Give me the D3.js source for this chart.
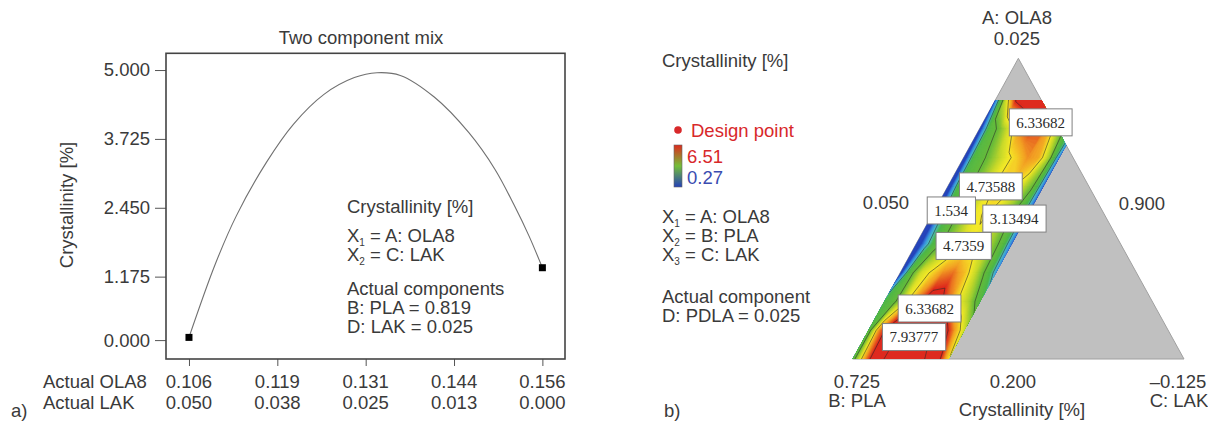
<!DOCTYPE html>
<html>
<head>
<meta charset="utf-8">
<script src="https://cdn.jsdelivr.net/npm/d3@7"></script>
<style>
  body { margin: 0; background: #fff; }
  svg text { font-family: "Liberation Sans", Arial, sans-serif; fill: #3a3a3a; }
  svg text.serif { font-family: "Liberation Serif", "Times New Roman", serif; fill: #2a2a2a; }
</style>
</head>
<body>
<svg id="chart" width="1208" height="423"></svg>
<script>
// ---------- panel a: two component mix ----------
const tickOLA8 = [0.106, 0.1185, 0.131, 0.1435, 0.156];
const tickLabelsOLA8 = ["0.106", "0.119", "0.131", "0.144", "0.156"];
const tickLabelsLAK = ["0.050", "0.038", "0.025", "0.013", "0.000"];
const yTicks = [0, 1.175, 2.45, 3.725, 5];

const curveOLA8  = [0.1060, 0.1097, 0.1127, 0.1170, 0.1208, 0.1251, 0.1294, 0.1326,
                    0.1359, 0.1407, 0.1456, 0.1493, 0.1520, 0.1541, 0.1560];
const curveCryst = [0.05, 1.40, 2.30, 3.30, 4.00, 4.55, 4.86, 4.95,
                    4.90, 4.50, 3.84, 3.16, 2.50, 1.93, 1.34];

const designOLA8  = [0.106, 0.156];
const designCryst = [0.05, 1.34];

// ---------- panel b: ternary contour (A top, B left, C right) ----------
const cMax = 0.289;   // LAK constraint (right boundary of the feasible band)
const aMax = 0.861;   // OLA8 constraint (top cut)
// crystallinity on a regular (C, A) grid, rows from A = aMax down to A = 0,
// columns from C = 0 to C = cMax
const crystGrid = [
  [0.4, 4.2, 6.5, 7.0, 7.3, 7.4, 7.2, 6.8, 6.0, 4.5],
  [-0.2, 2.6, 3.5, 4.6, 5.8, 6.3, 6.0, 4.6, 3.0, 1.3],
  [-0.5, 2.4, 3.1, 3.8, 4.5, 5.0, 5.6, 5.4, 3.8, 0.6],
  [-0.6, 2.2, 3.0, 3.8, 4.6, 5.0, 4.9, 4.2, 3.2, 0.5],
  [-0.6, 1.6, 2.9, 3.6, 4.6, 4.8, 4.2, 3.5, 2.7, 0.5],
  [-0.6, 1.3, 2.8, 3.6, 4.2, 4.6, 4.4, 3.8, 2.9, 0.6],
  [-0.2, 2.8, 4.3, 4.9, 5.6, 5.8, 5.2, 4.2, 3.0, 1.0],
  [2.2, 3.0, 4.6, 5.8, 6.8, 6.8, 5.8, 4.6, 3.8, 2.5],
  [2.5, 5.6, 7.0, 7.9, 8.2, 8.2, 7.9, 7.0, 5.6, 4.2],
  [2.6, 5.2, 7.0, 8.0, 8.5, 8.6, 8.4, 7.8, 6.8, 4.8]
];
const colorMin = 0.27, colorMax = 6.51;
const contourLevels = [1.534, 3.13494, 4.7359, 6.33682, 7.93777];
// contour labels: text and where they sit (C, A)
const contourLabels = [
  { text: "6.33682", c: 0.174, a: 0.787 },
  { text: "4.73588", c: 0.130, a: 0.574 },
  { text: "1.534",   c: 0.050, a: 0.494 },
  { text: "3.13494", c: 0.254, a: 0.467 },
  { text: "4.7359",  c: 0.147, a: 0.376 },
  { text: "6.33682", c: 0.148, a: 0.168 },
  { text: "7.93777", c: 0.148, a: 0.073 }
];

const FS = 18.5;
const svg = d3.select("#chart");

// ================= panel a =================
const xA = d3.scaleLinear().domain([0.10275, 0.1592]).range([166, 565]);
const yA = d3.scaleLinear().domain([-0.35, 5.31]).range([359, 53.3]);

const gA = svg.append("g");

gA.append("text").attr("x", 361).attr("y", 38).attr("dy", "0.35em")
  .attr("text-anchor", "middle").style("font-size", FS + "px").text("Two component mix");

// y axis
const yAxis = d3.axisLeft(yA).tickValues(yTicks).tickFormat(d3.format(".3f"))
  .tickSize(11).tickPadding(5);
const gy = gA.append("g").attr("transform", "translate(166,0)").call(yAxis);
gy.select(".domain").remove();
gy.selectAll(".tick line").attr("stroke", "#555");
gy.selectAll(".tick text").style("font-size", FS + "px").attr("fill", "#3a3a3a")
  .style("font-family", "'Liberation Sans', Arial, sans-serif");

// x axis with two label rows
const xAxis = d3.axisBottom(xA).tickValues(tickOLA8).tickFormat(() => "").tickSize(7);
const gx = gA.append("g").attr("transform", "translate(0,359)").call(xAxis);
gx.select(".domain").remove();
gx.selectAll(".tick line").attr("stroke", "#555");

tickOLA8.forEach((v, i) => {
  gA.append("text").attr("x", xA(v)).attr("y", 382).attr("dy", "0.35em")
    .attr("text-anchor", "middle").style("font-size", FS + "px").text(tickLabelsOLA8[i]);
  gA.append("text").attr("x", xA(v)).attr("y", 403).attr("dy", "0.35em")
    .attr("text-anchor", "middle").style("font-size", FS + "px").text(tickLabelsLAK[i]);
});
gA.append("text").attr("x", 43).attr("y", 382).attr("dy", "0.35em")
  .style("font-size", FS + "px").text("Actual OLA8");
gA.append("text").attr("x", 43).attr("y", 403).attr("dy", "0.35em")
  .style("font-size", FS + "px").text("Actual LAK");
gA.append("text").attr("x", 11).attr("y", 411).attr("dy", "0.35em")
  .style("font-size", FS + "px").text("a)");

gA.append("text")
  .attr("transform", "translate(67,205) rotate(-90)")
  .attr("dy", "0.35em").attr("text-anchor", "middle")
  .style("font-size", FS + "px").text("Crystallinity [%]");

// response curve
const curvePts = curveOLA8.map((x, i) => [x, curveCryst[i]]);
gA.append("path").datum(curvePts)
  .attr("fill", "none").attr("stroke", "#707070").attr("stroke-width", 1.1)
  .attr("d", d3.line().x(d => xA(d[0])).y(d => yA(d[1])).curve(d3.curveCatmullRom.alpha(0.5)));

// design points
gA.selectAll("rect.dp").data(designOLA8.map((x, i) => [x, designCryst[i]]))
  .join("rect").attr("class", "dp")
  .attr("x", d => xA(d[0]) - 3.5).attr("y", d => yA(d[1]) - 3.5)
  .attr("width", 7).attr("height", 7).attr("fill", "#000");

// frame
gA.append("rect").attr("x", 166).attr("y", 53.3).attr("width", 399).attr("height", 305.7)
  .attr("fill", "none").attr("stroke", "#444").attr("stroke-width", 1.6);

// legend text
const legA = [
  { y: 207, t: "Crystallinity [%]" },
  { y: 236, t: "X", sub: "1", rest: " = A: OLA8" },
  { y: 255, t: "X", sub: "2", rest: " =  C: LAK" },
  { y: 289, t: "Actual components" },
  { y: 308, t: "B: PLA = 0.819" },
  { y: 327, t: "D: LAK = 0.025" }
];
function subText(g, x, y, d, size, color) {
  const t = g.append("text").attr("x", x).attr("y", y).attr("dy", "0.35em")
    .style("font-size", size + "px");
  if (color) t.attr("fill", color).style("fill", color);
  t.append("tspan").text(d.t);
  if (d.sub) {
    t.append("tspan").attr("dy", "0.4em").style("font-size", "10px").text(d.sub);
    t.append("tspan").attr("dy", "-0.22em").text(d.rest);
  }
  return t;
}
legA.forEach(d => subText(gA, 347, d.y, d, FS));

// ================= panel b =================
// ternary -> screen: x from (C + A/2), y from A
const tx = d3.scaleLinear().domain([0, 1]).range([852.7, 1184]);
const ty = d3.scaleLinear().domain([0, 1]).range([359, 58.3]);
const proj = (c, a) => [tx(c + a / 2), ty(a)];

const gB = svg.append("g");

// whole simplex (infeasible part shown grey)
const tri = [proj(0, 0), proj(1, 0), proj(0, 1)];
gB.append("path").attr("d", "M" + tri.join("L") + "Z")
  .attr("fill", "#c0c0c0").attr("stroke", "#a0a0a0").attr("stroke-width", 1);

// feasible band clip
const band = [proj(0, 0), proj(cMax, 0), proj(cMax, 1 - cMax), proj(1 - aMax, aMax), proj(0, aMax)];
svg.append("defs").append("clipPath").attr("id", "bandClip")
  .append("path").attr("d", "M" + band.join("L") + "Z");

// contour fills
const nc = crystGrid[0].length, na = crystGrid.length;
const dc = cMax / (nc - 1), da = aMax / (na - 1);
const flat = [];
for (let j = 0; j < na; j++) {            // j = 0 at A = 0
  const row = crystGrid[na - 1 - j];
  for (let i = 0; i < nc; i++) flat.push(row[i]);
}
const gridProj = d3.geoTransform({
  point: function (gx, gy) {
    const p = proj((gx - 0.5) * dc, (gy - 0.5) * da);
    this.stream.point(p[0], p[1]);
  }
});
const path = d3.geoPath(gridProj);

const color = d3.scaleLinear()
  .domain([0.27, 0.9, 1.5, 2.1, 3.3, 4.1, 4.7, 5.5, 6.3])
  .range(["#2440b8", "#3a8ee0", "#4cc0c8", "#4fb84a", "#6abc3a", "#c4d82c", "#f6ea28", "#f2a024", "#de2a1e"])
  .clamp(true);

const step = 0.06;
const fillLevels = [-10].concat(d3.range(colorMin, colorMax + step, step));
const contours = d3.contours().size([nc, na]).thresholds(fillLevels)(flat);

const gC = gB.append("g").attr("clip-path", "url(#bandClip)");
gC.selectAll("path.fill").data(contours).join("path").attr("class", "fill")
  .attr("d", path)
  .attr("fill", d => color(Math.max(d.value, colorMin) + step / 2))
  .attr("stroke", d => color(Math.max(d.value, colorMin) + step / 2))
  .attr("stroke-width", 0.4);

const lines = d3.contours().size([nc, na]).thresholds(contourLevels)(flat);
gC.selectAll("path.line").data(lines).join("path").attr("class", "line")
  .attr("d", path).attr("fill", "none")
  .attr("stroke", "#2a2a2a").attr("stroke-width", 0.7).attr("stroke-opacity", 0.8);

// contour labels
contourLabels.forEach(l => {
  const p = proj(l.c, l.a);
  const g = gB.append("g");
  const t = g.append("text").attr("class", "serif")
    .attr("x", p[0]).attr("y", p[1]).attr("dy", "0.35em")
    .attr("text-anchor", "middle").style("font-size", "15px").text(l.text);
  const bb = t.node().getBBox();
  g.insert("rect", "text")
    .attr("x", bb.x - 7).attr("y", p[1] - 13.5).attr("width", bb.width + 14).attr("height", 27)
    .attr("fill", "#fff").attr("stroke", "#808080").attr("stroke-width", 1);
});

// vertex and edge labels
const tlabels = [
  { x: 1017, y: 18, t: "A: OLA8" },
  { x: 1017, y: 39, t: "0.025" },
  { x: 886, y: 203, t: "0.050" },
  { x: 1142, y: 204, t: "0.900" },
  { x: 857, y: 382, t: "0.725" },
  { x: 857, y: 401, t: "B: PLA" },
  { x: 1013, y: 382, t: "0.200" },
  { x: 1178, y: 382, t: "\u20130.125" },
  { x: 1179, y: 401, t: "C: LAK" },
  { x: 1022, y: 410, t: "Crystallinity [%]" }
];
tlabels.forEach(d => gB.append("text").attr("x", d.x).attr("y", d.y).attr("dy", "0.35em")
  .attr("text-anchor", "middle").style("font-size", FS + "px").text(d.t));
gB.append("text").attr("x", 664).attr("y", 411).attr("dy", "0.35em")
  .style("font-size", FS + "px").text("b)");

// legend
gB.append("text").attr("x", 662).attr("y", 61).attr("dy", "0.35em")
  .style("font-size", FS + "px").text("Crystallinity [%]");
gB.append("circle").attr("cx", 678).attr("cy", 130).attr("r", 3.8).attr("fill", "#d8282a");
gB.append("text").attr("x", 691).attr("y", 131).attr("dy", "0.35em")
  .style("font-size", FS + "px").style("fill", "#d8282a").text("Design point");

// colour bar: low (blue) through mid (green) to high (red)
const grad = svg.select("defs").append("linearGradient").attr("id", "cbar")
  .attr("x1", 0).attr("y1", 1).attr("x2", 0).attr("y2", 0);
[0, 0.5, 1].forEach(f => {
  grad.append("stop").attr("offset", f)
    .attr("stop-color", color(colorMin + f * (colorMax - colorMin)));
});
gB.append("rect").attr("x", 674).attr("y", 145).attr("width", 8).attr("height", 42)
  .attr("fill", "url(#cbar)").attr("stroke", "#666").attr("stroke-width", 0.6);
gB.append("text").attr("x", 687).attr("y", 157).attr("dy", "0.35em")
  .style("font-size", FS + "px").style("fill", "#d8282a").text(colorMax.toFixed(2));
gB.append("text").attr("x", 687).attr("y", 178).attr("dy", "0.35em")
  .style("font-size", FS + "px").style("fill", "#3a4cb0").text(colorMin.toFixed(2));

const legB = [
  { y: 217, t: "X", sub: "1", rest: " = A: OLA8" },
  { y: 236, t: "X", sub: "2", rest: " = B: PLA" },
  { y: 255, t: "X", sub: "3", rest: " = C: LAK" },
  { y: 297, t: "Actual component" },
  { y: 316, t: "D: PDLA = 0.025" }
];
legB.forEach(d => subText(gB, 662, d.y, d, FS));
</script>
</body>
</html>
